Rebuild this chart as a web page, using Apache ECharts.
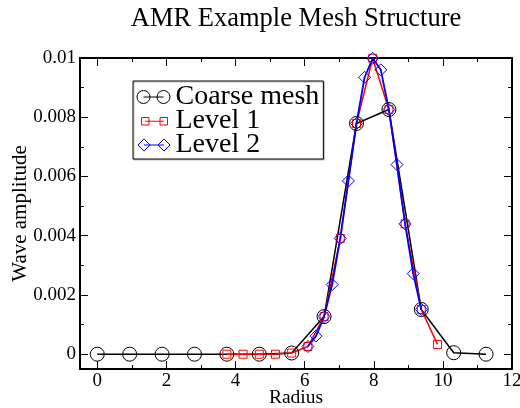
<!DOCTYPE html>
<html>
<head>
<meta charset="utf-8">
<title>AMR Example Mesh Structure</title>
<script src="https://cdn.jsdelivr.net/npm/echarts@6/dist/echarts.min.js"></script>
<style>
html,body{margin:0;padding:0;background:#fff;}
#meshChart{width:520px;height:408px;}
</style>
</head>
<body>
<div id="meshChart"></div>
<script>
// 粗网格
var coarseX = [0, 0.9375, 1.875, 2.8125, 3.75, 4.6875, 5.625, 6.5625, 7.5, 8.4375, 9.375, 10.3125, 11.25];
var coarseY = [0, 0, 0, 0, 0, 0, 0.00004, 0.00127, 0.00779, 0.00826, 0.00151, 0.00005, 0];
// 第一层加密
var level1X = [3.75, 4.21875, 4.6875, 5.15625, 5.625, 6.09375, 6.5625, 7.03125, 7.5, 7.96875, 8.4375, 8.90625, 9.375, 9.84375];
var level1Y = [0, 0, 0, 0, 0.00004, 0.00026, 0.00127, 0.00391, 0.00779, 0.00999, 0.00826, 0.0044, 0.00151, 0.00033];
// 第二层加密
var level2X = [6.09375, 6.328125, 6.5625, 6.796875, 7.03125, 7.265625, 7.5, 7.734375, 7.96875, 8.203125, 8.4375, 8.671875, 8.90625, 9.140625, 9.375];
var level2Y = [0.00026, 0.00061, 0.00127, 0.00235, 0.00391, 0.00585, 0.00779, 0.00935, 0.00999, 0.0096, 0.00826, 0.0064, 0.0044, 0.00272, 0.00151];

// 刻度
var xTicks = [0, 2, 4, 6, 8, 10, 12];
var xMinorTicks = [1, 3, 5, 7, 9, 11];
var yTicks = [0, 0.002, 0.004, 0.006, 0.008, 0.01];
var yMinorTicks = [0.001, 0.003, 0.005, 0.007, 0.009];

var serif = 'Liberation Serif';
var myChart = null;

function toPairs(xs, ys){
	var arr = [];
	for(var i=0;i<xs.length;i++){
		arr.push([xs[i], ys[i]]);
	}
	return arr;
}

// 边框上的一条轴（只画刻度或者连线和标签）
function frameAxis(isX, pos, ticks, len, main){
	var axis = {
		type : 'value',
		position : pos,
		min : isX ? -0.5 : -0.0005,
		max : isX ? 12 : 0.01,
		axisLine : {show: main, onZero: false, lineStyle: {color: '#000', width: 2}},
		axisTick : {show: true, inside: true, length: len, customValues: ticks,
			lineStyle: {color: '#000', width: 1}},
		axisLabel : {show: false},
		splitLine : {show: false}
	};
	return axis;
}

function drawChart(){
	myChart = echarts.init(document.getElementById('meshChart'));

	var xBottom = frameAxis(true, 'bottom', xTicks, 8, true);
	xBottom.axisLabel = {show: true, customValues: xTicks, margin: 3,
		fontFamily: serif, fontSize: 19, color: '#000'};
	xBottom.name = 'Radius';
	xBottom.nameLocation = 'middle';
	xBottom.nameGap = 19;
	xBottom.nameMoveOverlap = false;
	xBottom.nameTextStyle = {fontFamily: serif, fontSize: 19.5, color: '#000'};

	var yLeft = frameAxis(false, 'left', yTicks, 8, true);
	yLeft.axisLabel = {show: true, customValues: yTicks, margin: 4,
		fontFamily: serif, fontSize: 19, color: '#000',
		formatter: function(v){ return String(parseFloat(v.toFixed(6))); }};
	yLeft.name = 'Wave amplitude';
	yLeft.nameLocation = 'middle';
	yLeft.nameGap = 49;
	yLeft.nameMoveOverlap = false;
	yLeft.nameTextStyle = {fontFamily: serif, fontSize: 21, color: '#000'};

	var option = {
		animation : false,
		title : {
			text : 'AMR Example Mesh Structure',
			left : 296,
			top : 6,
			padding : 0,
			textAlign : 'center',
			textStyle : {fontFamily: serif, fontSize: 26.5, fontWeight: 'normal', color: '#000'}
		},
		grid : {left: 80, right: 8, top: 58, bottom: 39, outerBoundsMode: 'none'},
		legend : {
			orient : 'vertical',
			left : 133,
			top : 81,
			padding : [2, 4, 0, 3],
			itemGap : -4,
			itemWidth : 34,
			itemHeight : 14,
			selectedMode : false,
			backgroundColor : '#fff',
			borderColor : '#000',
			borderWidth : 1,
			shadowColor : '#bbb',
			shadowBlur : 0,
			shadowOffsetX : 1,
			shadowOffsetY : 1,
			textStyle : {fontFamily: serif, fontSize: 28, color: '#000'},
			data : [{
				name : 'Coarse mesh',
				icon : 'path://M0,0M34,14M0.5,7A6.5,6.5,0,1,1,13.5,7A6.5,6.5,0,1,1,0.5,7ZM20.5,7A6.5,6.5,0,1,1,33.5,7A6.5,6.5,0,1,1,20.5,7ZM7,7L27,7',
				itemStyle : {color: 'rgba(0,0,0,0)', borderColor: '#000', borderWidth: 1}
			},{
				name : 'Level 1',
				icon : 'path://M0,0M34,14M5,3.5L12.5,3.5L12.5,11L5,11ZM23.5,3.5L31,3.5L31,11L23.5,11ZM8.75,7.25L27.25,7.25',
				itemStyle : {color: 'rgba(0,0,0,0)', borderColor: '#ff0000', borderWidth: 1}
			},{
				name : 'Level 2',
				icon : 'path://M0,0M34,14M7.5,1L13.5,7L7.5,13L1.5,7ZM27.5,1L33.5,7L27.5,13L21.5,7ZM7.5,7L27.5,7',
				itemStyle : {color: 'rgba(0,0,0,0)', borderColor: '#0000ff', borderWidth: 1}
			}]
		},
		xAxis : [
			xBottom,
			frameAxis(true, 'bottom', xMinorTicks, 4, false),
			frameAxis(true, 'top', xTicks, 8, true),
			frameAxis(true, 'top', xMinorTicks, 4, false)
		],
		yAxis : [
			yLeft,
			frameAxis(false, 'left', yMinorTicks, 4, false),
			frameAxis(false, 'right', yTicks, 8, true),
			frameAxis(false, 'right', yMinorTicks, 4, false)
		],
		series : [{
			name : 'Coarse mesh',
			type : 'line',
			data : toPairs(coarseX, coarseY),
			symbol : 'circle',
			symbolSize : 14,
			itemStyle : {color: 'rgba(0,0,0,0)', borderColor: '#000', borderWidth: 1},
			lineStyle : {color: '#000', width: 1.5},
			emphasis : {disabled: true}
		},{
			name : 'Level 1',
			type : 'line',
			data : toPairs(level1X, level1Y),
			symbol : 'rect',
			symbolSize : 8,
			itemStyle : {color: 'rgba(0,0,0,0)', borderColor: '#ff0000', borderWidth: 1},
			lineStyle : {color: '#ff0000', width: 1.5},
			emphasis : {disabled: true}
		},{
			name : 'Level 2',
			type : 'line',
			data : toPairs(level2X, level2Y),
			symbol : 'diamond',
			symbolSize : [12, 12],
			itemStyle : {color: 'rgba(0,0,0,0)', borderColor: '#0000ff', borderWidth: 1},
			lineStyle : {color: '#0000ff', width: 1.8},
			emphasis : {disabled: true}
		}]
	};
	myChart.setOption(option, true);
}

drawChart();
</script>
</body>
</html>
